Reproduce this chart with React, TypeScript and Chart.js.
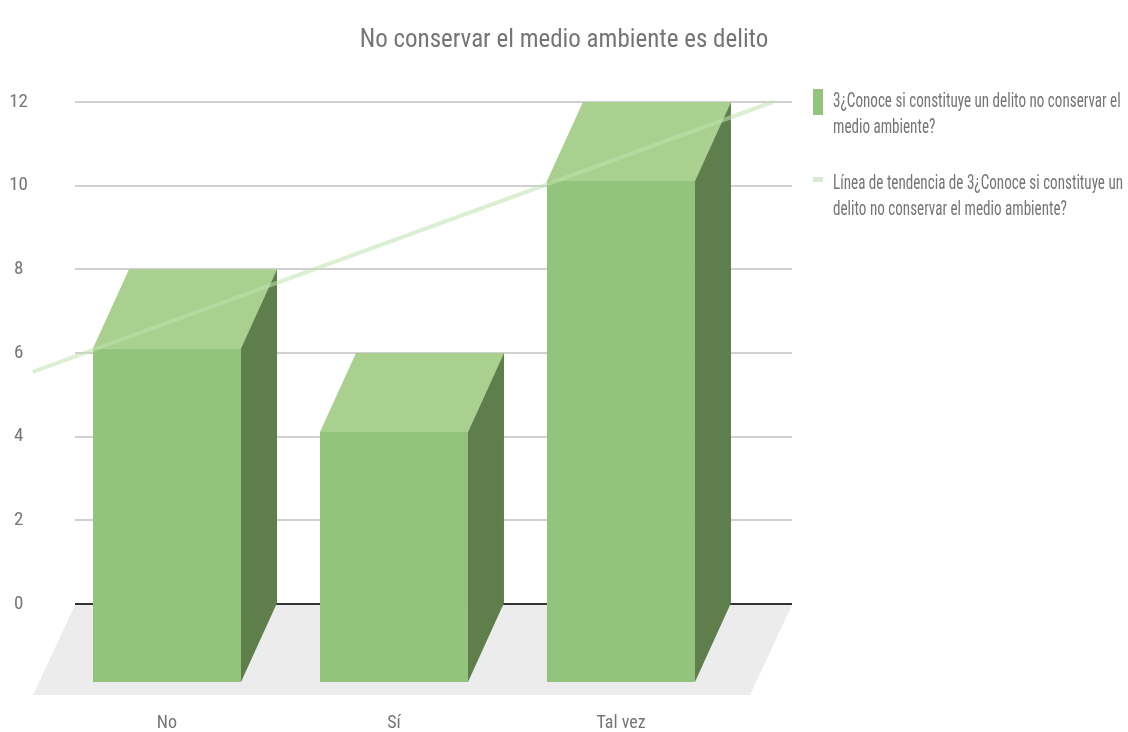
import React, { useEffect, useRef } from 'react';
import { Chart, registerables } from 'chart.js';

Chart.register(...registerables);

const chartTitle = 'No conservar el medio ambiente es delito';
const categories = ['No', 'Sí', 'Tal vez'];
const values = [8, 6, 12];
const trendX = [-0.75, 2.51];
const trendY = [5.55, 12];
const yTicks = [0, 2, 4, 6, 8, 10, 12];
const seriesLabel = ['3¿Conoce si constituye un delito no conservar el', 'medio ambiente?'];
const trendLabel = ['Línea de tendencia de 3¿Conoce si constituye un', 'delito no conservar el medio ambiente?'];

const FONT = "'Roboto Condensed', Roboto, 'Noto Sans', sans-serif";
const TEXT = '#757575';
const FRONT = '#93c47d';
const TOP = '#a9d08f';
const SIDE = '#5e7f4c';
const TREND = 'rgba(190,225,175,0.55)';
const DX = 36;
const DY = 79;
const FLOOR_DX = 42;
const FLOOR_DY = 91;

function poly(ctx: CanvasRenderingContext2D, pts: number[][], color: string) {
  ctx.beginPath();
  ctx.moveTo(pts[0][0], pts[0][1]);
  for (let i = 1; i < pts.length; i++) ctx.lineTo(pts[i][0], pts[i][1]);
  ctx.closePath();
  ctx.fillStyle = color;
  ctx.fill();
}

const bar3d = {
  id: 'bar3d',
  beforeDatasetsDraw(chart: any) {
    const { ctx, chartArea, scales } = chart;
    const y0 = scales.y.getPixelForValue(0);
    ctx.save();
    poly(ctx, [
      [chartArea.left, y0 + 1],
      [chartArea.right, y0 + 1],
      [chartArea.right - FLOOR_DX, y0 + FLOOR_DY],
      [chartArea.left - FLOOR_DX, y0 + FLOOR_DY],
    ], '#ececec');
    ctx.restore();
  },
  afterDatasetDraw(chart: any, args: any) {
    if (args.meta.type !== 'bar') return;
    const ctx = chart.ctx as CanvasRenderingContext2D;
    ctx.save();
    args.meta.data.forEach((el: any) => {
      const { x, y, base, width } = el.getProps(['x', 'y', 'base', 'width'], true);
      const L = x - width / 2;
      const R = x + width / 2;
      poly(ctx, [[L - DX, y + DY], [R - DX, y + DY], [R - DX, base + DY], [L - DX, base + DY]], FRONT);
      poly(ctx, [[L - DX, y + DY], [R - DX, y + DY], [R, y], [L, y]], TOP);
      poly(ctx, [[R - DX, y + DY], [R, y], [R, base], [R - DX, base + DY]], SIDE);
    });
    ctx.restore();
  },
};

const legendPlugin = {
  id: 'customLegend',
  afterDraw(chart: any) {
    const ctx = chart.ctx as CanvasRenderingContext2D;
    const left = chart.chartArea.right + 21;
    const textX = left + 20;
    ctx.save();
    ctx.font = `20px ${FONT}`;
    ctx.fillStyle = TEXT;
    ctx.textBaseline = 'middle';
    ctx.textAlign = 'left';
    const target = 290;
    const w = Math.max(ctx.measureText(seriesLabel[0]).width, ctx.measureText(trendLabel[0]).width);
    const s = w > target ? target / w : 1;
    const items = [
      { lines: seriesLabel, y: 102, color: FRONT, box: [89, 26] },
      { lines: trendLabel, y: 184, color: '#d9ead3', box: [177, 5] },
    ];
    items.forEach((it) => {
      ctx.fillStyle = it.color;
      ctx.fillRect(left, it.box[0], 10, it.box[1]);
      ctx.fillStyle = TEXT;
      it.lines.forEach((line, i) => {
        ctx.save();
        ctx.translate(textX, it.y + i * 26);
        ctx.scale(s, 1);
        ctx.fillText(line, 0, 0);
        ctx.restore();
      });
    });
    ctx.restore();
  },
};

export default function App() {
  const ref = useRef<HTMLCanvasElement>(null);
  useEffect(() => {
    if (!ref.current) return;
    const chart = new Chart(ref.current, {
      type: 'bar',
      data: {
        datasets: [
          {
            type: 'line',
            label: trendLabel.join(' '),
            data: trendX.map((x, i) => ({ x, y: trendY[i] })),
            borderColor: TREND,
            borderWidth: 4,
            pointRadius: 0,
            clip: false,
            order: 0,
            xAxisID: 'x',
            yAxisID: 'y',
          } as any,
          {
            type: 'bar',
            label: seriesLabel.join(' '),
            data: values.map((v, i) => ({ x: i, y: v })),
            backgroundColor: 'rgba(0,0,0,0)',
            barThickness: 148,
            order: 1,
            xAxisID: 'x',
            yAxisID: 'y',
          } as any,
        ],
      },
      options: {
        responsive: false,
        animation: false,
        devicePixelRatio: 1,
        layout: { padding: 0 },
        plugins: {
          legend: { display: false },
          tooltip: { enabled: false },
          title: {
            display: true,
            text: chartTitle,
            color: TEXT,
            font: { family: FONT, size: 25, weight: 'normal', lineHeight: 1.2 },
            padding: { top: 26, bottom: 46 },
          },
        },
        scales: {
          x: {
            type: 'linear',
            display: false,
            offset: false,
            bounds: 'data',
            min: -0.564,
            max: 2.595,
          },
          xl: {
            type: 'linear',
            position: 'bottom',
            offset: false,
            bounds: 'data',
            min: -0.405,
            max: 2.753,
            afterBuildTicks: (s: any) => {
              s.ticks = categories.map((_, i) => ({ value: i }));
            },
            afterFit: (s: any) => {
              s.height = 128;
            },
            grid: { display: false, drawTicks: false, offset: false },
            border: { display: false },
            ticks: {
              color: TEXT,
              font: { family: FONT, size: 18 },
              padding: 109,
              maxRotation: 0,
              autoSkip: false,
              callback: (v: any) => categories[v] ?? '',
            },
          },
          y: {
            min: 0,
            max: 12,
            afterBuildTicks: (s: any) => {
              s.ticks = yTicks.map((v) => ({ value: v }));
            },
            afterFit: (s: any) => {
              s.width = 75;
            },
            grid: {
              color: (c: any) => (c.tick && c.tick.value === 0 ? '#333333' : '#d0d0d0'),
              lineWidth: 2,
              drawTicks: false,
            },
            border: { display: false },
            ticks: {
              color: TEXT,
              font: { family: FONT, size: 19 },
              padding: 47,
              crossAlign: 'center',
            },
          },
          legendSpace: {
            type: 'linear',
            position: 'right',
            afterFit: (s: any) => {
              s.width = 336;
            },
            grid: { display: false, drawTicks: false },
            border: { display: false },
            ticks: { display: false },
          },
        },
      } as any,
      plugins: [bar3d, legendPlugin],
    });
    return () => chart.destroy();
  }, []);
  return (
    <div style={{ position: 'fixed', left: 0, top: 0, width: 1128, height: 732, background: '#fff' }}>
      <canvas ref={ref} width={1128} height={732} style={{ display: 'block' }} />
    </div>
  );
}
